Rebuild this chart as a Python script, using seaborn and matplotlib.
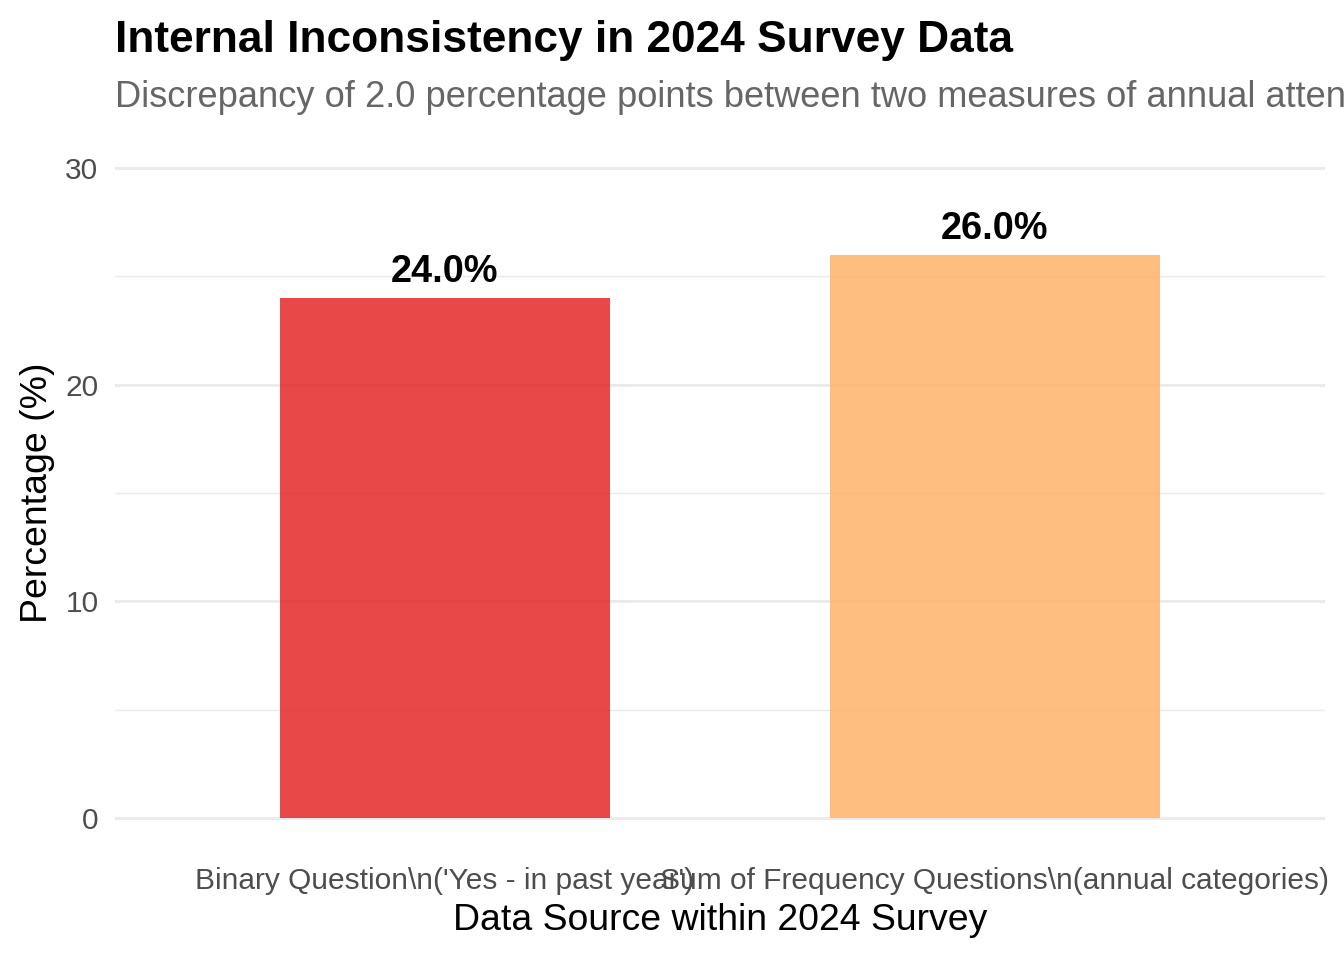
import numpy as np
import pandas as pd
import seaborn as sns
from matplotlib import pyplot as plt

categories = ["Binary Question\\n('Yes - in past year')",
              "Sum of Frequency Questions\\n(annual categories)"]
values = [24.0, 26.0]
bar_colors = ["#E41A1C", "#FDAE61"]
y_ticks = [0, 10, 20, 30]
y_minor = [5, 15, 25]

if __name__ == '__main__':
    df = pd.DataFrame({'source': categories, 'pct': values})

    sns.set_theme(style='white')
    plt.rcParams['font.family'] = ['Liberation Sans', 'DejaVu Sans']

    fig = plt.figure(figsize=(7, 5), dpi=192)
    W, H = 1344, 960
    ax = fig.add_axes([115 / W, (H - 850.5) / H, 1210 / W, 715 / H])

    sns.barplot(data=df, x='source', y='pct', hue='source', palette=bar_colors,
                alpha=0.8, width=0.6, legend=False, ax=ax, saturation=1,
                linewidth=0)

    ax.set_xlim(-0.6, 1.6)
    ax.set_ylim(-1.5, 31.5)
    ax.set_yticks(y_ticks)
    ax.set_yticks(y_minor, minor=True)
    ax.grid(axis='y', which='major', color='#EBEBEB', linewidth=1.1)
    ax.grid(axis='y', which='minor', color='#EBEBEB', linewidth=0.55)
    ax.grid(axis='x', visible=False)
    ax.set_axisbelow(True)
    for s in ax.spines.values():
        s.set_visible(False)
    ax.tick_params(axis='both', which='both', length=0, labelsize=11.2,
                   labelcolor='#4D4D4D', pad=6.2)

    for i, v in enumerate(values):
        ax.annotate(f"{v:.1f}%", (i, v), xytext=(0, 3), textcoords='offset points',
                    ha='center', va='bottom', fontsize=14.2, fontweight='bold',
                    color='black')

    ax.set_xlabel('Data Source within 2024 Survey', fontsize=14, color='black', labelpad=3)
    ax.set_ylabel('Percentage (%)', fontsize=14, color='black', labelpad=3.8)

    fig.text(115 / W, 1 - 52 / H, 'Internal Inconsistency in 2024 Survey Data',
             fontsize=16.6, fontweight='bold', color='black', va='baseline', ha='left')
    # subtitle runs past the right edge, as in the original
    fig.text(115 / W, 1 - 107 / H,
             'Discrepancy of 2.0 percentage points between two measures of annual attendance',
             fontsize=13.6, color='#666666', va='baseline', ha='left')

    fig.savefig('out.png', dpi=192)
